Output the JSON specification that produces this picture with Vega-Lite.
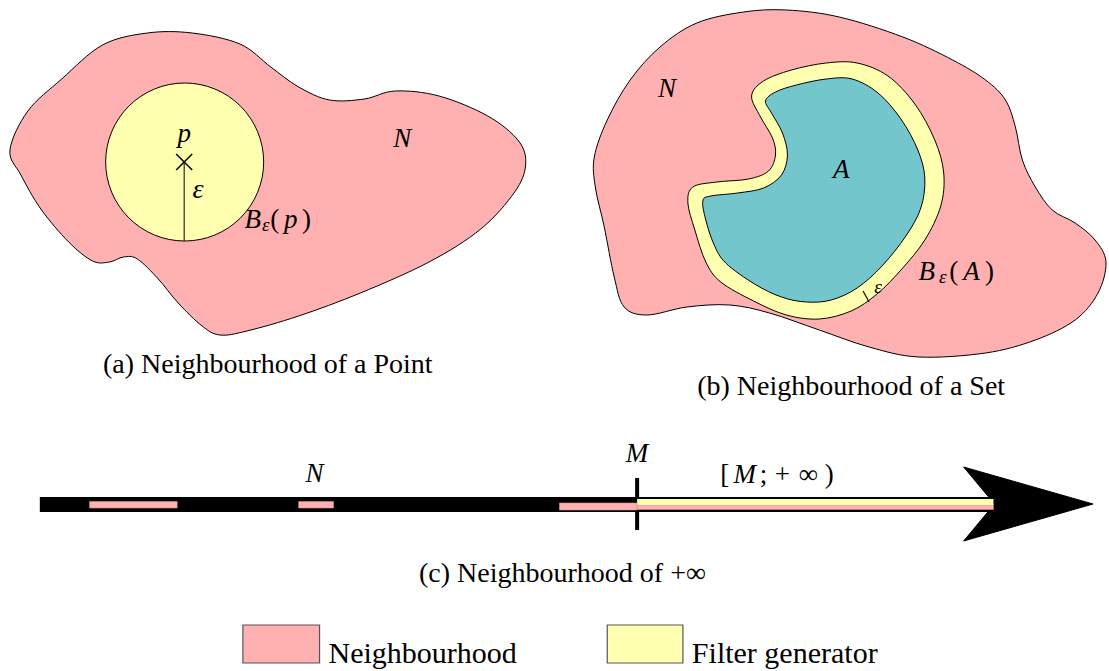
{
  "$schema": "https://vega.github.io/schema/vega-lite/v6.json",
  "autosize": {"type": "fit", "contains": "padding"},
  "width": 1109,
  "height": 671,
  "padding": 0,
  "view": {"stroke": null},
  "config": {"font": "Liberation Serif", "text": {"font": "Liberation Serif"}},
  "datasets": {
    "shapes": [
      {"shape": "N1", "i": 1, "x": 10, "y": 150},
      {"shape": "N1", "i": 2, "x": 28, "y": 111},
      {"shape": "N1", "i": 3, "x": 62, "y": 79},
      {"shape": "N1", "i": 4, "x": 103, "y": 45},
      {"shape": "N1", "i": 5, "x": 148, "y": 33},
      {"shape": "N1", "i": 6, "x": 193, "y": 33},
      {"shape": "N1", "i": 7, "x": 241, "y": 44},
      {"shape": "N1", "i": 8, "x": 272, "y": 67},
      {"shape": "N1", "i": 9, "x": 300, "y": 87},
      {"shape": "N1", "i": 10, "x": 331, "y": 100},
      {"shape": "N1", "i": 11, "x": 366, "y": 99},
      {"shape": "N1", "i": 12, "x": 397, "y": 91},
      {"shape": "N1", "i": 13, "x": 441, "y": 96},
      {"shape": "N1", "i": 14, "x": 490, "y": 116},
      {"shape": "N1", "i": 15, "x": 521, "y": 141},
      {"shape": "N1", "i": 16, "x": 528, "y": 165},
      {"shape": "N1", "i": 17, "x": 517, "y": 192},
      {"shape": "N1", "i": 18, "x": 483, "y": 229},
      {"shape": "N1", "i": 19, "x": 431, "y": 262},
      {"shape": "N1", "i": 20, "x": 362, "y": 293},
      {"shape": "N1", "i": 21, "x": 300, "y": 316},
      {"shape": "N1", "i": 22, "x": 248, "y": 331},
      {"shape": "N1", "i": 23, "x": 221, "y": 335},
      {"shape": "N1", "i": 24, "x": 203, "y": 326},
      {"shape": "N1", "i": 25, "x": 179, "y": 303},
      {"shape": "N1", "i": 26, "x": 159, "y": 279},
      {"shape": "N1", "i": 27, "x": 138, "y": 259},
      {"shape": "N1", "i": 28, "x": 124, "y": 257},
      {"shape": "N1", "i": 29, "x": 110, "y": 262},
      {"shape": "N1", "i": 30, "x": 93, "y": 261},
      {"shape": "N1", "i": 31, "x": 69, "y": 242},
      {"shape": "N1", "i": 32, "x": 41, "y": 209},
      {"shape": "N1", "i": 33, "x": 21, "y": 175},
      {"shape": "N2", "i": 1, "x": 597, "y": 157},
      {"shape": "N2", "i": 2, "x": 610, "y": 120},
      {"shape": "N2", "i": 3, "x": 633, "y": 80},
      {"shape": "N2", "i": 4, "x": 663, "y": 47},
      {"shape": "N2", "i": 5, "x": 700, "y": 23},
      {"shape": "N2", "i": 6, "x": 747, "y": 12},
      {"shape": "N2", "i": 7, "x": 790, "y": 10},
      {"shape": "N2", "i": 8, "x": 843, "y": 17},
      {"shape": "N2", "i": 9, "x": 907, "y": 37},
      {"shape": "N2", "i": 10, "x": 957, "y": 60},
      {"shape": "N2", "i": 11, "x": 990, "y": 80},
      {"shape": "N2", "i": 12, "x": 1010, "y": 100},
      {"shape": "N2", "i": 13, "x": 1020, "y": 127},
      {"shape": "N2", "i": 14, "x": 1027, "y": 160},
      {"shape": "N2", "i": 15, "x": 1040, "y": 187},
      {"shape": "N2", "i": 16, "x": 1057, "y": 210},
      {"shape": "N2", "i": 17, "x": 1080, "y": 223},
      {"shape": "N2", "i": 18, "x": 1100, "y": 240},
      {"shape": "N2", "i": 19, "x": 1111, "y": 262},
      {"shape": "N2", "i": 20, "x": 1103, "y": 293},
      {"shape": "N2", "i": 21, "x": 1080, "y": 320},
      {"shape": "N2", "i": 22, "x": 1040, "y": 340},
      {"shape": "N2", "i": 23, "x": 990, "y": 353},
      {"shape": "N2", "i": 24, "x": 923, "y": 357},
      {"shape": "N2", "i": 25, "x": 873, "y": 347},
      {"shape": "N2", "i": 26, "x": 823, "y": 330},
      {"shape": "N2", "i": 27, "x": 773, "y": 313},
      {"shape": "N2", "i": 28, "x": 733, "y": 305},
      {"shape": "N2", "i": 29, "x": 690, "y": 307},
      {"shape": "N2", "i": 30, "x": 650, "y": 315},
      {"shape": "N2", "i": 31, "x": 627, "y": 307},
      {"shape": "N2", "i": 32, "x": 617, "y": 277},
      {"shape": "N2", "i": 33, "x": 607, "y": 227},
      {"shape": "N2", "i": 34, "x": 598, "y": 187},
      {"shape": "BA", "i": 1, "x": 755, "y": 96},
      {"shape": "BA", "i": 2, "x": 767, "y": 81},
      {"shape": "BA", "i": 3, "x": 795, "y": 70},
      {"shape": "BA", "i": 4, "x": 830, "y": 63},
      {"shape": "BA", "i": 5, "x": 861, "y": 63},
      {"shape": "BA", "i": 6, "x": 892, "y": 76},
      {"shape": "BA", "i": 7, "x": 919, "y": 104},
      {"shape": "BA", "i": 8, "x": 939, "y": 140},
      {"shape": "BA", "i": 9, "x": 948, "y": 173},
      {"shape": "BA", "i": 10, "x": 945, "y": 206},
      {"shape": "BA", "i": 11, "x": 929, "y": 240},
      {"shape": "BA", "i": 12, "x": 905, "y": 270},
      {"shape": "BA", "i": 13, "x": 881, "y": 294},
      {"shape": "BA", "i": 14, "x": 855, "y": 311},
      {"shape": "BA", "i": 15, "x": 823, "y": 319},
      {"shape": "BA", "i": 16, "x": 790, "y": 315},
      {"shape": "BA", "i": 17, "x": 757, "y": 301},
      {"shape": "BA", "i": 18, "x": 724, "y": 282},
      {"shape": "BA", "i": 19, "x": 709, "y": 262},
      {"shape": "BA", "i": 20, "x": 698, "y": 230},
      {"shape": "BA", "i": 21, "x": 691, "y": 203},
      {"shape": "BA", "i": 22, "x": 696, "y": 187},
      {"shape": "BA", "i": 23, "x": 720, "y": 182},
      {"shape": "BA", "i": 24, "x": 752, "y": 179},
      {"shape": "BA", "i": 25, "x": 772, "y": 171},
      {"shape": "BA", "i": 26, "x": 779, "y": 155},
      {"shape": "BA", "i": 27, "x": 776, "y": 138},
      {"shape": "BA", "i": 28, "x": 764, "y": 117},
      {"shape": "A", "i": 1, "x": 769, "y": 101},
      {"shape": "A", "i": 2, "x": 779, "y": 92},
      {"shape": "A", "i": 3, "x": 800, "y": 85},
      {"shape": "A", "i": 4, "x": 830, "y": 79},
      {"shape": "A", "i": 5, "x": 856, "y": 79},
      {"shape": "A", "i": 6, "x": 882, "y": 93},
      {"shape": "A", "i": 7, "x": 905, "y": 119},
      {"shape": "A", "i": 8, "x": 922, "y": 150},
      {"shape": "A", "i": 9, "x": 929, "y": 178},
      {"shape": "A", "i": 10, "x": 925, "y": 208},
      {"shape": "A", "i": 11, "x": 910, "y": 236},
      {"shape": "A", "i": 12, "x": 886, "y": 266},
      {"shape": "A", "i": 13, "x": 861, "y": 288},
      {"shape": "A", "i": 14, "x": 835, "y": 300},
      {"shape": "A", "i": 15, "x": 810, "y": 302},
      {"shape": "A", "i": 16, "x": 785, "y": 297},
      {"shape": "A", "i": 17, "x": 758, "y": 284},
      {"shape": "A", "i": 18, "x": 729, "y": 263},
      {"shape": "A", "i": 19, "x": 717, "y": 244},
      {"shape": "A", "i": 20, "x": 709, "y": 220},
      {"shape": "A", "i": 21, "x": 706, "y": 201},
      {"shape": "A", "i": 22, "x": 714, "y": 196},
      {"shape": "A", "i": 23, "x": 741, "y": 193},
      {"shape": "A", "i": 24, "x": 767, "y": 188},
      {"shape": "A", "i": 25, "x": 785, "y": 175},
      {"shape": "A", "i": 26, "x": 791, "y": 155},
      {"shape": "A", "i": 27, "x": 786, "y": 133},
      {"shape": "A", "i": 28, "x": 775, "y": 113},
      {"shape": "arrow", "i": 1, "x": 968, "y": 467},
      {"shape": "arrow", "i": 2, "x": 1098, "y": 504},
      {"shape": "arrow", "i": 3, "x": 968, "y": 541},
      {"shape": "arrow", "i": 4, "x": 999, "y": 504}
    ],
    "rects": [
      {"part": "bar", "x": 40, "x2": 999, "y": 497, "y2": 512},
      {"part": "pinkseg", "x": 90, "x2": 178, "y": 501.5, "y2": 508},
      {"part": "pinkseg", "x": 300, "x2": 335, "y": 501.5, "y2": 508},
      {"part": "pinkseg", "x": 562, "x2": 640, "y": 503, "y2": 510},
      {"part": "pinkseg", "x": 640, "x2": 998, "y": 505, "y2": 509.5},
      {"part": "yellowseg", "x": 640, "x2": 998, "y": 499, "y2": 505},
      {"part": "tick", "x": 638, "x2": 642, "y": 478, "y2": 530},
      {"part": "legpink", "x": 244, "x2": 321, "y": 625, "y2": 663},
      {"part": "legyellow", "x": 610, "x2": 686, "y": 625, "y2": 663}
    ],
    "segs": [
      {"part": "radius", "x": 185, "y": 162, "y2": 241},
      {"part": "epsarrow", "x": 867, "y": 291, "x2": 873, "y2": 302}
    ],
    "pts": [
      {"part": "ball", "x": 185.5, "y": 162},
      {"part": "cross", "x": 185, "y": 162}
    ]
  },
  "encoding": {
    "x": {"field": "x", "type": "quantitative", "scale": {"domain": [0, 1109], "nice": false, "zero": false}, "axis": null},
    "y": {"field": "y", "type": "quantitative", "scale": {"domain": [0, 671], "nice": false, "zero": false, "reverse": true}, "axis": null}
  },
  "layer": [
    {
      "data": {"name": "shapes"},
      "transform": [{"filter": "datum.shape === 'N1' || datum.shape === 'N2'"}],
      "mark": {"type": "line", "interpolate": "cardinal-closed", "fill": "#ffb0b0", "stroke": "black", "strokeWidth": 1},
      "encoding": {"detail": {"field": "shape"}, "order": {"field": "i", "type": "quantitative"}}
    },
    {
      "data": {"name": "shapes"},
      "transform": [{"filter": "datum.shape === 'BA'"}],
      "mark": {"type": "line", "interpolate": "cardinal-closed", "fill": "#ffffb0", "stroke": "black", "strokeWidth": 1},
      "encoding": {"detail": {"field": "shape"}, "order": {"field": "i", "type": "quantitative"}}
    },
    {
      "data": {"name": "shapes"},
      "transform": [{"filter": "datum.shape === 'A'"}],
      "mark": {"type": "line", "interpolate": "cardinal-closed", "fill": "#74c6cd", "stroke": "black", "strokeWidth": 1},
      "encoding": {"detail": {"field": "shape"}, "order": {"field": "i", "type": "quantitative"}}
    },
    {
      "data": {"name": "pts"},
      "transform": [{"filter": "datum.part === 'ball'"}],
      "mark": {"type": "point", "shape": "circle", "filled": true, "fill": "#ffffb0", "stroke": "black", "strokeWidth": 1, "opacity": 1, "size": 24964}
    },
    {
      "data": {"name": "segs"},
      "transform": [{"filter": "datum.part === 'radius'"}],
      "mark": {"type": "rule", "stroke": "black", "strokeWidth": 1},
      "encoding": {"y2": {"field": "y2"}}
    },
    {
      "data": {"name": "segs"},
      "transform": [{"filter": "datum.part === 'epsarrow'"}],
      "mark": {"type": "rule", "stroke": "black", "strokeWidth": 1.2},
      "encoding": {"x2": {"field": "x2"}, "y2": {"field": "y2"}}
    },
    {
      "data": {"name": "pts"},
      "transform": [{"filter": "datum.part === 'cross'"}],
      "mark": {"type": "point", "shape": "M-1,-1L1,1M1,-1L-1,1", "filled": false, "stroke": "black", "strokeWidth": 1.5, "opacity": 1, "size": 256}
    },
    {
      "data": {"name": "rects"},
      "transform": [{"filter": "datum.part === 'bar' || datum.part === 'tick'"}],
      "mark": {"type": "rect", "fill": "black"},
      "encoding": {"x2": {"field": "x2"}, "y2": {"field": "y2"}}
    },
    {
      "data": {"name": "shapes"},
      "transform": [{"filter": "datum.shape === 'arrow'"}],
      "mark": {"type": "line", "interpolate": "linear-closed", "fill": "black", "stroke": "black", "strokeWidth": 1},
      "encoding": {"detail": {"field": "shape"}, "order": {"field": "i", "type": "quantitative"}}
    },
    {
      "data": {"name": "rects"},
      "transform": [{"filter": "datum.part === 'pinkseg'"}],
      "mark": {"type": "rect", "fill": "#ffb0b0", "stroke": "#d89090", "strokeWidth": 0.6},
      "encoding": {"x2": {"field": "x2"}, "y2": {"field": "y2"}}
    },
    {
      "data": {"name": "rects"},
      "transform": [{"filter": "datum.part === 'yellowseg'"}],
      "mark": {"type": "rect", "fill": "#ffffb0"},
      "encoding": {"x2": {"field": "x2"}, "y2": {"field": "y2"}}
    },
    {
      "data": {"name": "rects"},
      "transform": [{"filter": "datum.part === 'legpink'"}],
      "mark": {"type": "rect", "fill": "#ffb0b0", "stroke": "#555555", "strokeWidth": 1.2},
      "encoding": {"x2": {"field": "x2"}, "y2": {"field": "y2"}}
    },
    {
      "data": {"name": "rects"},
      "transform": [{"filter": "datum.part === 'legyellow'"}],
      "mark": {"type": "rect", "fill": "#ffffb0", "stroke": "#555555", "strokeWidth": 1.2},
      "encoding": {"x2": {"field": "x2"}, "y2": {"field": "y2"}}
    },
    {
      "data": {"values": [
        {"label": "(a) Neighbourhood of a Point", "x": 269, "y": 373},
        {"label": "(b) Neighbourhood of a Set", "x": 855, "y": 395},
        {"label": "(c) Neighbourhood of +∞", "x": 565, "y": 582}
      ]},
      "mark": {"type": "text", "font": "Liberation Serif", "fontSize": 28, "align": "center", "baseline": "alphabetic"},
      "encoding": {"text": {"field": "label"}}
    },
    {
      "data": {"values": [
        {"label": "Neighbourhood", "x": 330, "y": 663},
        {"label": "Filter generator", "x": 695, "y": 663}
      ]},
      "mark": {"type": "text", "font": "Liberation Serif", "fontSize": 30, "align": "left", "baseline": "alphabetic"},
      "encoding": {"text": {"field": "label"}}
    },
    {
      "data": {"values": [
        {"label": "N", "x": 404, "y": 147},
        {"label": "p", "x": 185, "y": 142},
        {"label": "N", "x": 670, "y": 97},
        {"label": "A", "x": 845, "y": 178},
        {"label": "N", "x": 316, "y": 482},
        {"label": "M", "x": 640, "y": 462},
        {"label": "B", "x": 254, "y": 228},
        {"label": "p", "x": 292, "y": 228},
        {"label": "B", "x": 931, "y": 280},
        {"label": "A", "x": 976, "y": 280},
        {"label": "M", "x": 748, "y": 483}
      ]},
      "mark": {"type": "text", "font": "Liberation Serif", "fontStyle": "italic", "fontSize": 27, "align": "center", "baseline": "alphabetic"},
      "encoding": {"text": {"field": "label"}}
    },
    {
      "data": {"values": [
        {"label": "(", "x": 276, "y": 228},
        {"label": ")", "x": 308, "y": 228},
        {"label": "(", "x": 958, "y": 280},
        {"label": ")", "x": 994, "y": 280},
        {"label": "[", "x": 728, "y": 483},
        {"label": ";", "x": 767, "y": 483},
        {"label": "+", "x": 786, "y": 483},
        {"label": "∞", "x": 812, "y": 483},
        {"label": ")", "x": 833, "y": 483}
      ]},
      "mark": {"type": "text", "font": "Liberation Serif", "fontSize": 27, "align": "center", "baseline": "alphabetic"},
      "encoding": {"text": {"field": "label"}}
    },
    {
      "data": {"values": [
        {"label": "ε", "x": 199, "y": 198}
      ]},
      "mark": {"type": "text", "font": "Liberation Serif", "fontStyle": "italic", "fontSize": 28, "align": "center", "baseline": "alphabetic"},
      "encoding": {"text": {"field": "label"}}
    },
    {
      "data": {"values": [
        {"label": "ε", "x": 267, "y": 231},
        {"label": "ε", "x": 947, "y": 283},
        {"label": "ε", "x": 882, "y": 293}
      ]},
      "mark": {"type": "text", "font": "Liberation Serif", "fontStyle": "italic", "fontSize": 19, "align": "center", "baseline": "alphabetic"},
      "encoding": {"text": {"field": "label"}}
    }
  ]
}
